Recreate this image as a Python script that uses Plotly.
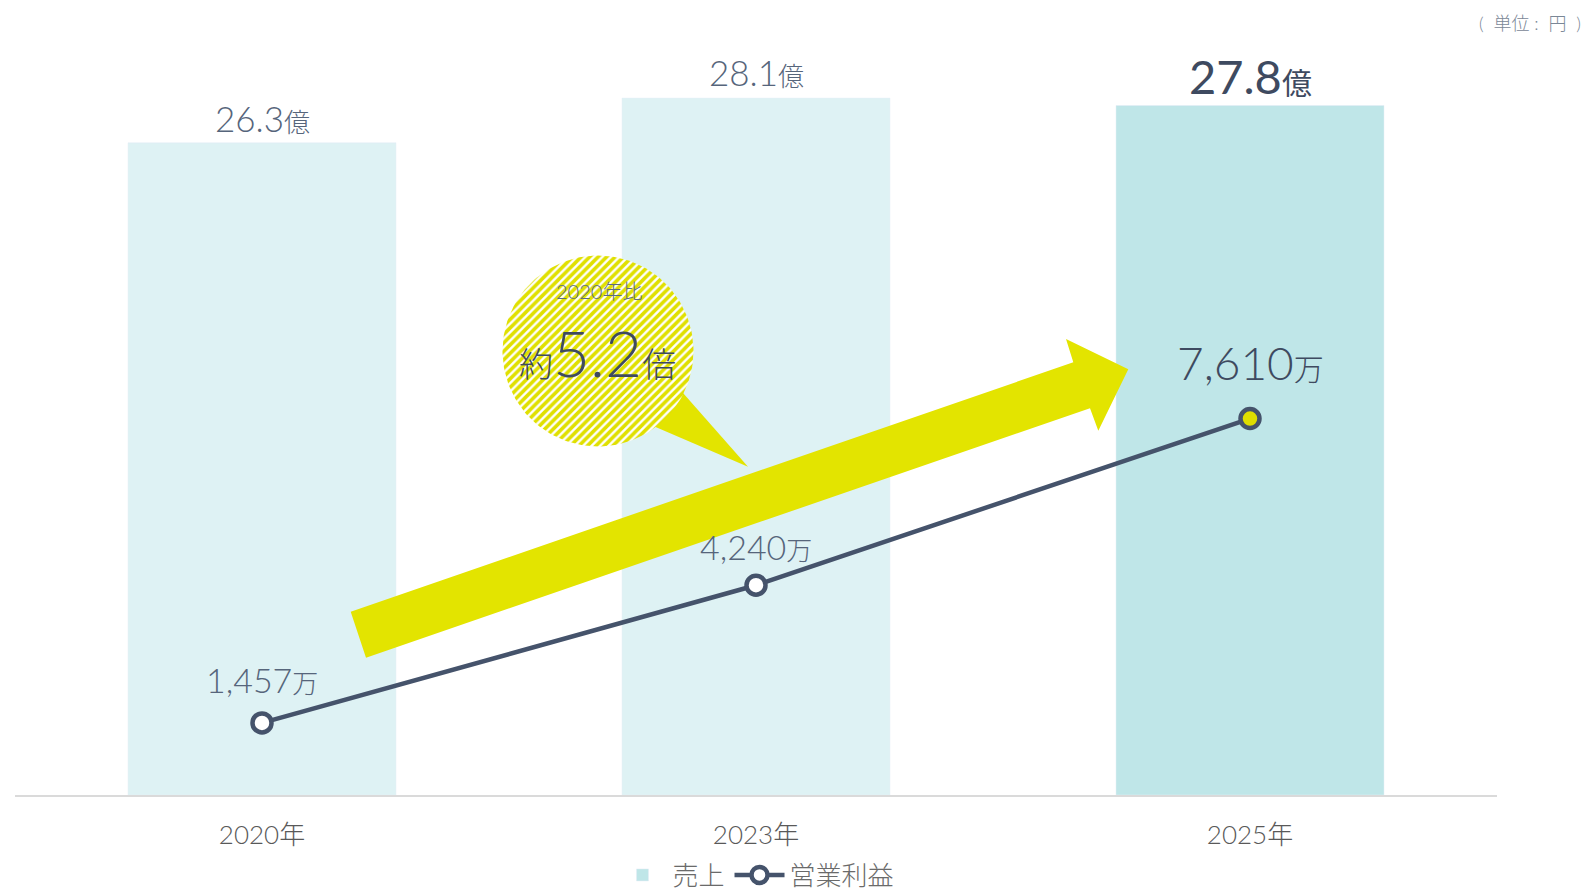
import numpy as np
import plotly.graph_objects as go

# ---------------- data ----------------
years = ["2020年", "2023年", "2025年"]
sales = [26.3, 28.1, 27.8]            # 億円
sales_labels = ["26.3", "28.1", "27.8"]
profit = [1457, 4240, 7610]           # 万円
profit_labels = ["1,457", "4,240", "7,610"]
ratio_text = "5.2"

# ---------------- style ----------------
FONT = "Lato, 'Noto Sans CJK JP', sans-serif"
BAR_LIGHT = "#def2f4"
BAR_DARK = "#bfe6e8"
LINE = "#45536b"
YELLOW = "#e3e400"
TXT = "#56657b"
TXT_DARK = "#3e4a60"

W, H = 1586, 892
L, R, T, B = 15, 89, 0, 97
PW, PH = W - L - R, H - T - B

fig = go.Figure()

# bars (2020, 2023 light; 2025 highlighted)
fig.add_trace(go.Bar(x=years[:2], y=sales[:2], marker_color=BAR_LIGHT,
                     showlegend=False, hoverinfo="skip"))
fig.add_trace(go.Bar(x=years[2:], y=sales[2:], marker_color=BAR_DARK,
                     name="売上", hoverinfo="skip"))

# operating profit line
fig.add_trace(go.Scatter(
    x=years, y=profit, yaxis="y2", mode="lines+markers", name="営業利益",
    line=dict(color=LINE, width=4.5),
    marker=dict(symbol="circle", size=19,
                color=["white", "white", "#dede00"],
                line=dict(color=LINE, width=4.5)),
    hoverinfo="skip"))

# ---------------- decorations in pixel space (x3/y3) ----------------
arrow_x = [350.7, 1073.3, 1066.0, 1128.3, 1098.3, 1090.0, 366.0, 350.7]
arrow_y = [611.7, 362.3, 339.0, 369.3, 430.7, 408.3, 657.7, 611.7]
fig.add_trace(go.Scatter(x=arrow_x, y=arrow_y, xaxis="x3", yaxis="y3",
                         mode="lines", fill="toself", fillcolor=YELLOW,
                         line=dict(width=0, color=YELLOW),
                         showlegend=False, hoverinfo="skip"))

# bubble tail
tail_x = [655, 683, 748, 655]
tail_y = [426.7, 393, 466.7, 426.7]
fig.add_trace(go.Scatter(x=tail_x, y=tail_y, xaxis="x3", yaxis="y3",
                         mode="lines", fill="toself", fillcolor=YELLOW,
                         line=dict(width=0, color=YELLOW),
                         showlegend=False, hoverinfo="skip"))

# hatched bubble
cx, cy, rr = 598, 351, 95.5
th = np.linspace(0, 2 * np.pi, 181)
fig.add_trace(go.Scatter(x=cx + rr * np.cos(th), y=cy + rr * np.sin(th),
                         xaxis="x3", yaxis="y3", mode="lines", fill="toself",
                         fillcolor="white",
                         fillpattern=dict(shape="/", fgcolor="#e0e000", bgcolor="white",
                                          size=6, solidity=0.6, fgopacity=1),
                         line=dict(width=0, color="rgba(0,0,0,0)"),
                         showlegend=False, hoverinfo="skip"))

# ---------------- annotations ----------------
ann = []
bar_shift = [25, 26, 29.5]
for i in range(3):
    big = i == 2
    ann.append(dict(
        x=years[i], y=sales[i], xref="x", yref="y", yanchor="middle",
        yshift=bar_shift[i], showarrow=False,
        text=(f"{sales_labels[i]}<span style='font-size:{30 if big else 26}px'>億</span>"),
        font=dict(family=FONT, size=47 if big else 35, weight=400 if big else 300,
                  color=TXT_DARK if big else TXT)))

line_shift = [43, 38.5, 56]
for i in range(3):
    big = i == 2
    ann.append(dict(
        x=years[i], y=profit[i], xref="x", yref="y2", yanchor="middle",
        yshift=line_shift[i], showarrow=False,
        text=(f"{profit_labels[i]}<span style='font-size:{30 if big else 26}px'>万</span>"),
        font=dict(family=FONT, size=46 if big else 34, weight=300,
                  color=TXT_DARK if big else TXT)))

# bubble texts
ann.append(dict(x=599, y=291, xref="x3", yref="y3", showarrow=False,
                text="2020年比", font=dict(family=FONT, size=20, weight=300, color="#5d6b80")))
ann.append(dict(x=597.5, y=352, xref="x3", yref="y3", showarrow=False, yanchor="middle",
                text=f"<span style='font-size:34px'>約</span>{ratio_text}<span style='font-size:34px'>倍</span>",
                font=dict(family=FONT, size=64, weight=300, color=TXT_DARK)))

# unit label
ann.append(dict(x=(1583 - L) / PW, y=(PH - 23) / PH, xref="paper", yref="paper",
                xanchor="right", yanchor="middle", showarrow=False,
                text="(  単位 :  円  )", font=dict(family=FONT, size=18, weight=300, color="#7a8796")))

fig.update_layout(
    width=W, height=H,
    margin=dict(l=L, r=R, t=T, b=B, autoexpand=False),
    paper_bgcolor="white", plot_bgcolor="white",
    barmode="overlay", bargap=0.4575,
    font=dict(family=FONT),
    xaxis=dict(type="category", range=[-0.5, 2.5], showgrid=False,
               showline=True, linecolor="#dadada", linewidth=2,
               ticks="", tickfont=dict(family=FONT, size=26, weight=300, color="#595959"),
               ticklabelstandoff=16, fixedrange=True, automargin=False),
    yaxis=dict(range=[0, PH / 24.80], visible=False, fixedrange=True),
    yaxis2=dict(range=[0, 16070], overlaying="y", visible=False, fixedrange=True),
    xaxis3=dict(range=[L, L + PW], overlaying="x", anchor="y3", visible=False),
    yaxis3=dict(range=[PH, 0], overlaying="y", anchor="x3", visible=False),
    legend=dict(orientation="h", x=0.5, xanchor="center",
                y=(PH - 875) / PH, yanchor="middle", itemwidth=50,
                font=dict(family=FONT, size=26, weight=300, color="#6a6a6a"),
                bgcolor="rgba(0,0,0,0)"),
    annotations=ann,
    showlegend=True,
)

fig.write_html("out.html")
